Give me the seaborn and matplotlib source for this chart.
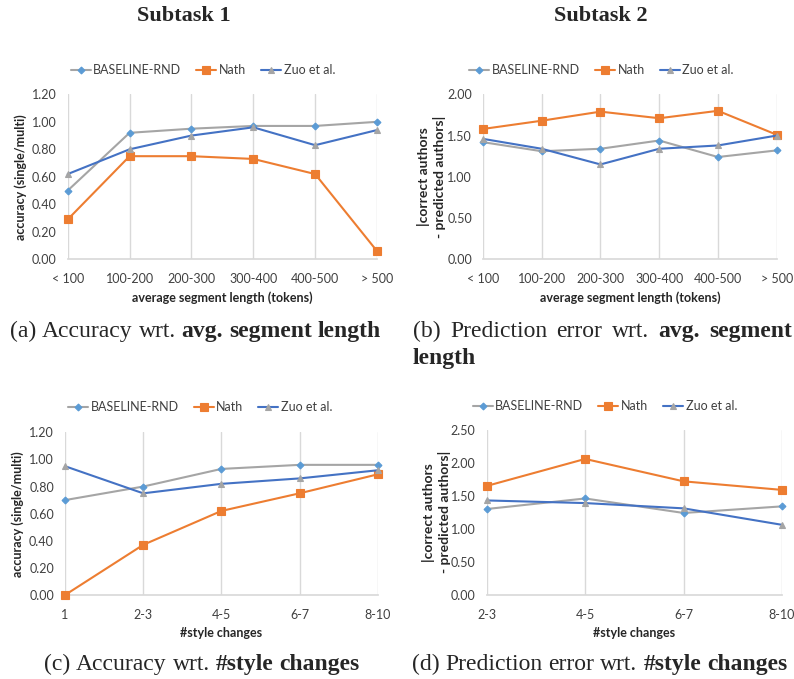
import numpy as np
import pandas as pd
import seaborn as sns
import matplotlib.pyplot as plt

methods = ['BASELINE-RND', 'Nath', 'Zuo et al.']
seg_labels = ['< 100', '100-200', '200-300', '300-400', '400-500', '> 500']
chg_labels_acc = ['1', '2-3', '4-5', '6-7', '8-10']
chg_labels_err = ['2-3', '4-5', '6-7', '8-10']

# (a) accuracy vs avg. segment length
acc_seg_baseline = [0.50, 0.92, 0.95, 0.97, 0.97, 1.00]
acc_seg_nath = [0.29, 0.75, 0.75, 0.73, 0.62, 0.06]
acc_seg_zuo = [0.62, 0.80, 0.90, 0.96, 0.83, 0.94]

# (b) prediction error vs avg. segment length
err_seg_baseline = [1.42, 1.31, 1.34, 1.44, 1.24, 1.32]
err_seg_nath = [1.58, 1.68, 1.79, 1.71, 1.80, 1.51]
err_seg_zuo = [1.46, 1.34, 1.15, 1.34, 1.38, 1.50]

# (c) accuracy vs #style changes
acc_chg_baseline = [0.70, 0.80, 0.93, 0.96, 0.96]
acc_chg_nath = [0.00, 0.37, 0.62, 0.75, 0.89]
acc_chg_zuo = [0.95, 0.75, 0.82, 0.86, 0.92]

# (d) prediction error vs #style changes
err_chg_baseline = [1.30, 1.46, 1.24, 1.34]
err_chg_nath = [1.65, 2.06, 1.72, 1.59]
err_chg_zuo = [1.43, 1.39, 1.31, 1.06]

styles = {
    'BASELINE-RND': dict(color='#A5A5A5', marker='D', markersize=3.5,
                         markerfacecolor='#5B9BD5', markeredgecolor='#5B9BD5'),
    'Nath': dict(color='#ED7D31', marker='s', markersize=6,
                 markerfacecolor='#ED7D31', markeredgecolor='#ED7D31'),
    'Zuo et al.': dict(color='#4472C4', marker='^', markersize=4.5,
                       markerfacecolor='#A5A5A5', markeredgecolor='#A5A5A5'),
}

sns.set_theme(style='white')
plt.rcParams['font.family'] = ['Lato', 'DejaVu Sans']
grid_col = '#D9D9D9'
serif = 'Liberation Serif'

fig = plt.figure(figsize=(7.94, 6.79), dpi=100)


def draw(rect, labels, series, ymax, ystep, ylabel, xlabel, ylab_x, ylab_size, legend_xy):
    ax = fig.add_axes(rect)
    n = len(labels)
    df = pd.DataFrame({
        'pos': np.tile(np.arange(n), len(methods)),
        'method': np.repeat(methods, n),
        'value': np.concatenate(series),
    })
    for m in methods:
        sns.lineplot(data=df[df['method'] == m], x='pos', y='value', ax=ax,
                     label=m, lw=1.5, markeredgewidth=0.8, clip_on=False,
                     zorder=3, **styles[m])
    ax.set_xlim(0, n - 1)
    ax.set_ylim(0, ymax)
    ax.set_xticks(np.arange(n))
    ax.set_xticklabels(labels)
    yt = np.arange(0, ymax + 1e-9, ystep)
    ax.set_yticks(yt)
    ax.set_yticklabels([f'{v:.2f}' for v in yt])
    ax.tick_params(length=0, labelsize=9, colors='#404040', pad=8)
    ax.tick_params(axis='x', pad=10)
    ax.grid(axis='x', color=grid_col, lw=1)
    ax.grid(axis='y', visible=False)
    for s in ['top', 'right', 'left']:
        ax.spines[s].set_visible(False)
    ax.spines['bottom'].set_color(grid_col)
    ax.set_xlabel(xlabel, fontsize=9, weight='bold', color='#262626', va='center')
    ax.xaxis.set_label_coords(0.5, -0.235)
    ax.set_ylabel(ylabel, fontsize=ylab_size, weight='bold', color='#262626',
                  va='center', linespacing=1.3)
    ax.yaxis.set_label_coords(ylab_x, 0.5)
    handles, labs = ax.get_legend_handles_labels()
    ax.get_legend().remove()
    fig.legend(handles, labs, loc='center', bbox_to_anchor=legend_xy, ncol=3,
               frameon=False, fontsize=9, handlelength=1.6, handletextpad=0.2,
               columnspacing=1.2, labelcolor='#404040')
    return ax


draw([0.0853, 0.6181, 0.3895, 0.2430], seg_labels,
     [acc_seg_baseline, acc_seg_nath, acc_seg_zuo], 1.2, 0.2,
     'accuracy (single/multi)', 'average segment length (tokens)',
     -0.151, 9, (0.2557, 0.897))
draw([0.6083, 0.6181, 0.3699, 0.2430], seg_labels,
     [err_seg_baseline, err_seg_nath, err_seg_zuo], 2.0, 0.5,
     '|correct authors\n- predicted authors|', 'average segment length (tokens)',
     -0.175, 10, (0.7576, 0.897))
draw([0.0819, 0.1237, 0.3938, 0.2396], chg_labels_acc,
     [acc_chg_baseline, acc_chg_nath, acc_chg_zuo], 1.2, 0.2,
     'accuracy (single/multi)', '#style changes',
     -0.150, 9, (0.252, 0.4006))
draw([0.6130, 0.1242, 0.3719, 0.2426], chg_labels_err,
     [err_chg_baseline, err_chg_nath, err_chg_zuo], 2.5, 0.5,
     '|correct authors\n- predicted authors|', '#style changes',
     -0.170, 10, (0.762, 0.402))

fig.text(184 / 794, 1 - 16 / 679, 'Subtask 1', family=serif, weight='bold',
         fontsize=16, ha='center', va='center')
fig.text(601 / 794, 1 - 16 / 679, 'Subtask 2', family=serif, weight='bold',
         fontsize=16, ha='center', va='center')

renderer = fig.canvas.get_renderer()
cap_size = 17


def caption(xpx, ypx, words, right_px=None):
    # words: list of (word, weight); spaces between words, optionally justified
    texts = []
    for w, weight in words:
        texts.append(fig.text(0, 1 - ypx / 679, w, family=serif, weight=weight,
                              fontsize=cap_size, va='baseline', ha='left'))
    widths = [t.get_window_extent(renderer).width for t in texts]
    space = fig.text(0, 0, 'a a', family=serif, fontsize=cap_size)
    a = fig.text(0, 0, 'aa', family=serif, fontsize=cap_size)
    gap = space.get_window_extent(renderer).width - a.get_window_extent(renderer).width
    space.remove()
    a.remove()
    if right_px is not None and len(words) > 1:
        gap = (right_px - xpx - sum(widths)) / (len(words) - 1)
    x = xpx
    for t, w in zip(texts, widths):
        t.set_x(x / 794)
        x += w + gap


caption(10, 337, [('(a)', 'normal'), ('Accuracy', 'normal'), ('wrt.', 'normal'),
                  ('avg.', 'bold'), ('segment', 'bold'), ('length', 'bold')])
caption(413, 337, [('(b)', 'normal'), ('Prediction', 'normal'), ('error', 'normal'),
                   ('wrt.', 'normal'), ('avg.', 'bold'), ('segment', 'bold')],
        right_px=792)
caption(413, 364, [('length', 'bold')])
caption(44, 670, [('(c)', 'normal'), ('Accuracy', 'normal'), ('wrt.', 'normal'),
                  ('#style', 'bold'), ('changes', 'bold')])
caption(412, 670, [('(d)', 'normal'), ('Prediction', 'normal'), ('error', 'normal'),
                   ('wrt.', 'normal'), ('#style', 'bold'), ('changes', 'bold')])

fig.savefig('out.png', dpi=100)
